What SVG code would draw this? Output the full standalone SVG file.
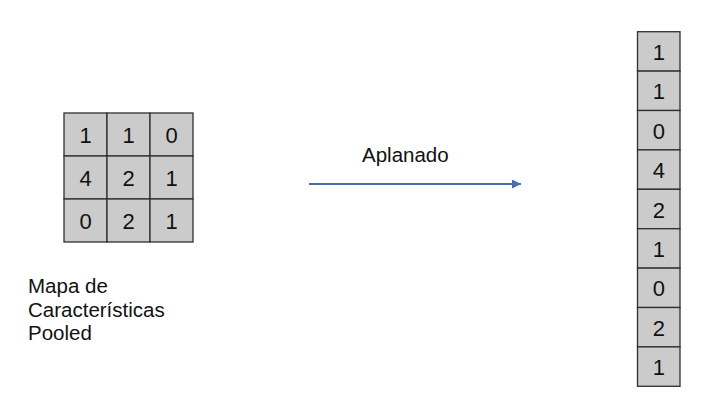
<svg xmlns="http://www.w3.org/2000/svg" width="717" height="409" viewBox="0 0 717 409">
<style>
.cell{fill:#cbcbcb;stroke:#2e2e2e;stroke-width:1.3}
.num{font-family:"Liberation Sans",Arial,sans-serif;font-size:22px;fill:#111;text-anchor:middle}
.lbl{font-family:"Liberation Sans",Arial,sans-serif;font-size:20.5px;fill:#111}
</style>
<defs>
<marker id="ah" viewBox="0 0 10 10" refX="10" refY="5" markerWidth="9" markerHeight="9" markerUnits="userSpaceOnUse" orient="auto">
<path d="M0,0 L10,5 L0,10 Z" fill="#4a6fa8"/>
</marker>
</defs>
<rect width="717" height="409" fill="#fff"/>
<g id="grid">
<rect class="cell" x="64" y="113" width="43" height="43"/>
<rect class="cell" x="107" y="113" width="43" height="43"/>
<rect class="cell" x="150" y="113" width="43" height="43"/>
<rect class="cell" x="64" y="156" width="43" height="43"/>
<rect class="cell" x="107" y="156" width="43" height="43"/>
<rect class="cell" x="150" y="156" width="43" height="43"/>
<rect class="cell" x="64" y="199" width="43" height="43"/>
<rect class="cell" x="107" y="199" width="43" height="43"/>
<rect class="cell" x="150" y="199" width="43" height="43"/>
<text class="num" x="85.5" y="143">1</text>
<text class="num" x="128.5" y="143">1</text>
<text class="num" x="171.5" y="143">0</text>
<text class="num" x="85.5" y="186">4</text>
<text class="num" x="128.5" y="186">2</text>
<text class="num" x="171.5" y="186">1</text>
<text class="num" x="85.5" y="229">0</text>
<text class="num" x="128.5" y="229">2</text>
<text class="num" x="171.5" y="229">1</text>
</g>
<g id="label">
<text class="lbl" x="28" y="293">Mapa de</text>
<text class="lbl" x="28" y="316.5">Características</text>
<text class="lbl" x="28" y="340">Pooled</text>
</g>
<g id="column">
<rect class="cell" x="637.5" y="31.7" width="42.5" height="39.4"/>
<rect class="cell" x="637.5" y="71.1" width="42.5" height="39.4"/>
<rect class="cell" x="637.5" y="110.5" width="42.5" height="39.4"/>
<rect class="cell" x="637.5" y="149.9" width="42.5" height="39.4"/>
<rect class="cell" x="637.5" y="189.3" width="42.5" height="39.4"/>
<rect class="cell" x="637.5" y="228.7" width="42.5" height="39.4"/>
<rect class="cell" x="637.5" y="268.1" width="42.5" height="39.4"/>
<rect class="cell" x="637.5" y="307.5" width="42.5" height="39.4"/>
<rect class="cell" x="637.5" y="346.9" width="42.5" height="39.4"/>
<text class="num" x="658.75" y="60">1</text>
<text class="num" x="658.75" y="99.4">1</text>
<text class="num" x="658.75" y="138.8">0</text>
<text class="num" x="658.75" y="178.2">4</text>
<text class="num" x="658.75" y="217.6">2</text>
<text class="num" x="658.75" y="257">1</text>
<text class="num" x="658.75" y="296.4">0</text>
<text class="num" x="658.75" y="335.8">2</text>
<text class="num" x="658.75" y="375.2">1</text>
</g>
<g id="connectors">
<line x1="309" y1="184" x2="521" y2="184" stroke="#4a6fa8" stroke-width="2" marker-end="url(#ah)"/>
<text class="lbl" x="362" y="162">Aplanado</text>
</g>
</svg>
